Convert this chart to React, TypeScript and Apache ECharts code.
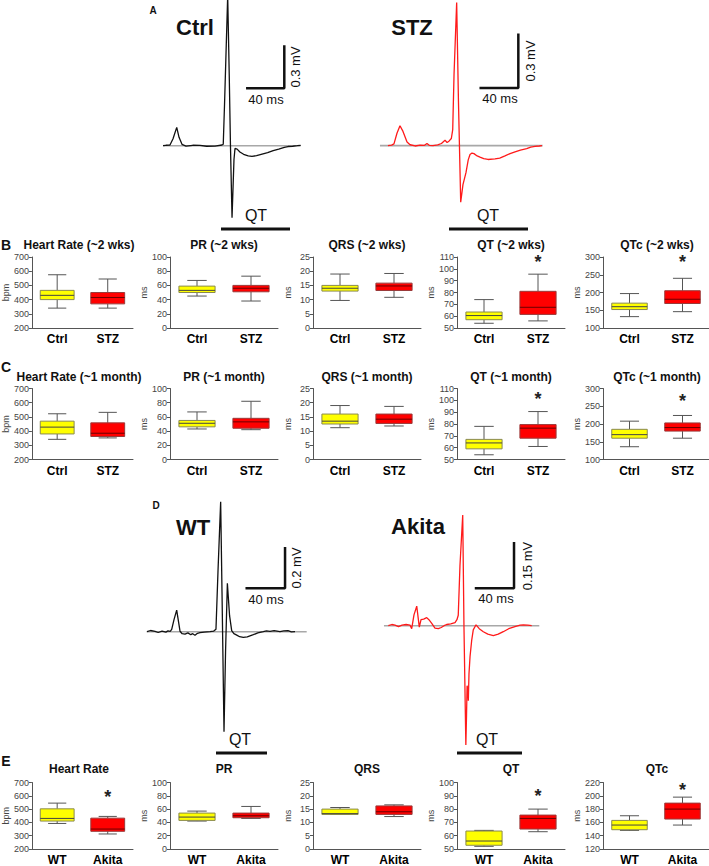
import React, { useEffect, useRef } from 'react';
import * as echarts from 'echarts';

// ---------------- DATA ----------------
const groupsSTZ = ['Ctrl', 'STZ'];
const groupsAkita = ['WT', 'Akita'];

const titles2wk = ['Heart Rate (~2 wks)', 'PR (~2 wks)', 'QRS (~2 wks)', 'QT (~2 wks)', 'QTc (~2 wks)'];
const titles1mo = ['Heart Rate (~1 month)', 'PR (~1 month)', 'QRS (~1 month)', 'QT (~1 month)', 'QTc (~1 month)'];
const titlesAkita = ['Heart Rate', 'PR', 'QRS', 'QT', 'QTc'];
const unitNames = ['bpm', 'ms', 'ms', 'ms', 'ms'];

const axisMinSTZ = [200, 0, 0, 50, 100];
const axisMaxSTZ = [700, 100, 25, 110, 300];
const axisStepSTZ = [100, 20, 5, 10, 50];
const axisMinAkita = [200, 0, 0, 50, 120];
const axisMaxAkita = [700, 100, 25, 100, 220];
const axisStepAkita = [100, 20, 5, 10, 20];

// box values: [min, Q1, median, Q3, max]
const ctrl2wk = [[340, 400, 430, 465, 575], [45, 50, 53, 59, 67], [9.7, 13, 14, 15, 19], [54, 57, 60.5, 63.5, 74], [132, 152, 160, 170, 197]];
const stz2wk = [[340, 370, 415, 450, 545], [38, 51, 56, 60, 73], [10.8, 13.2, 14.8, 15.8, 19.2], [56, 61.5, 67.5, 81, 95.5], [146, 169, 181, 205, 240]];
const ctrl1mo = [[342, 380, 428, 470, 522], [43, 46, 51, 55, 67], [11.2, 12.5, 13.5, 16, 19], [54, 59, 64, 67, 78], [136, 160, 170, 185, 208]];
const stz1mo = [[352, 362, 385, 458, 532], [42, 44, 53, 58, 82], [11.8, 12.7, 14.2, 16, 18.7], [61, 68, 76.5, 79.5, 90.5], [160, 180, 190, 203, 224]];
const wtBox = [[392, 410, 430, 502, 545], [42, 43, 48, 54, 57], [13, 13, 13.3, 15, 15.6], [52, 52.8, 56, 63.5, 64], [148, 149, 156, 163, 170]];
const akitaBox = [[313, 333, 350, 432, 445], [46, 47, 50, 54, 64], [12.2, 13, 14, 16.2, 16.6], [63, 65, 73, 75.5, 80], [156, 165, 180, 189, 198]];

// significance marker levels (null = none)
const star2wk = [null, null, null, 109, 297];
const star1mo = [null, null, null, 104.5, 277];
const starAkita = [619, null, null, 92.8, 215];

// ECG traces: [time ms, amplitude mV]
const ctrlTrace = [[24.9, 0], [28, 0.003], [32.4, 0.005], [35.7, 0.05], [39.7, 0.132], [42.2, 0.06], [45.4, 0.01], [49.7, -0.003], [57, 0.003], [64.9, 0.002], [72, -0.004], [81.1, -0.003], [88.6, 0.005], [90, 0.01], [91.4, 0.3], [94.8, 1.08], [96.5, 0.5], [97.8, 0], [99.5, -0.52], [101.6, -0.1], [102.7, -0.02], [105, -0.025], [108, -0.045], [112, -0.062], [117, -0.073], [121, -0.077], [126, -0.072], [132, -0.06], [138, -0.05], [144, -0.035], [150, -0.025], [156, -0.012], [160, -0.006], [165, -0.004], [170, 0], [173.7, 0.003]];
const stzTrace = [[19.1, 0], [23, 0.003], [25.5, 0.01], [28.7, 0.07], [31.9, 0.112], [35.1, 0.08], [39.4, 0.02], [42.6, 0.005], [48, -0.002], [53.2, 0.003], [58, 0.002], [60.6, 0.012], [63, 0.002], [67, 0], [72, 0.004], [76, 0.012], [79.8, 0.03], [82, 0.018], [84, 0.025], [86.5, 0.04], [88, 0.09], [89.4, 0.4], [92.2, 0.806], [94.1, 0.25], [96.5, -0.319], [98.9, -0.22], [102.1, -0.152], [104.5, -0.08], [106.4, -0.05], [108.5, -0.042], [110.6, -0.045], [114, -0.058], [117, -0.065], [121, -0.073], [125.5, -0.078], [133, -0.075], [138, -0.07], [143.6, -0.058], [149, -0.045], [154.3, -0.035], [160, -0.025], [166.7, -0.017], [171, -0.008], [175.5, -0.004], [180, -0.002], [183, 0]];
const wtTrace = [[7.3, 0], [11, 0.006], [15.7, 0.002], [19, -0.004], [23, 0.003], [27, -0.002], [29.2, 0.004], [31.5, 0.002], [33.1, 0.012], [35.5, 0.06], [38.3, 0.108], [40.2, 0.05], [41.8, 0.002], [44, -0.01], [47, -0.012], [50, -0.006], [53, -0.015], [55, -0.01], [57.4, -0.018], [60, -0.008], [62.6, -0.005], [67, -0.002], [73.1, 0], [77, 0.003], [79.3, 0.012], [81.4, 0.3], [84.2, 0.65], [85.6, 0.2], [87.7, -0.5], [89.3, -0.1], [91.2, 0.242], [93.5, 0.08], [95.7, 0.005], [98, -0.01], [101, -0.017], [104, -0.025], [107.8, -0.028], [112, -0.026], [118.3, -0.015], [123, -0.006], [128.7, 0], [132, 0.004], [135.7, 0.002], [140, 0.005], [146.1, 0], [150, 0.004], [154.5, 0.005], [158, -0.001], [161.8, 0]];
const akitaTrace = [[19.3, 0], [23, 0.004], [26.3, 0.002], [30, -0.003], [33.7, 0.002], [38, 0.004], [42.1, 0.002], [43.9, -0.01], [46.3, 0.036], [49.2, 0.065], [51.9, -0.005], [53.7, 0.02], [56.5, 0.022], [59.7, 0.027], [62, 0.02], [65, 0.008], [68.4, -0.008], [71.9, -0.01], [75, -0.006], [78, 0], [80.7, 0.004], [85, 0.006], [89.5, 0.01], [91.5, 0.02], [92.9, 0.035], [94.7, 0.2], [97.6, 0.369], [98.9, 0], [100.9, -0.398], [101.6, -0.3], [102.2, -0.2], [102.9, -0.21], [103.5, -0.25], [104.2, -0.16], [105.3, -0.103], [107, -0.05], [108.7, -0.014], [111.6, 0.003], [115, -0.01], [119.3, -0.02], [124, -0.028], [129.8, -0.033], [135, -0.028], [140.3, -0.02], [146, -0.01], [152.6, -0.003], [158, 0.002], [161.4, 0.003], [166, 0.002], [170.2, 0]];

// isoelectric baseline extents [start ms, end ms]
const ctrlBaseline = [24.9, 173.7];
const stzBaseline = [10.6, 183.7];
const wtBaseline = [7, 174];
const akitaBaseline = [14.7, 178.2];

// calibration bars: [ms, mV]
const ctrlCal = [40, 0.3];
const stzCal = [40, 0.3];
const wtCal = [40, 0.2];
const akitaCal = [40, 0.15];
const calLabels = [['40 ms', '0.3 mV'], ['40 ms', '0.3 mV'], ['40 ms', '0.2 mV'], ['40 ms', '0.15 mV']];
const traceNames = ['Ctrl', 'STZ', 'WT', 'Akita'];

// ---------------- LAYOUT / STYLE ----------------
const FONT = 'Liberation Sans, Arial, Helvetica, sans-serif';
const YELLOW = '#ffff00';
const RED = '#ff0000';

function renderBox(params: any, api: any) {
  const cat = api.value(0);
  const vals = [api.value(1), api.value(2), api.value(3), api.value(4), api.value(5)];
  const p = vals.map((v: number) => api.coord([cat, v]));
  const band = api.size([1, 0])[0];
  const bw = band * 0.67;
  const cw = band * 0.36;
  const x = p[0][0];
  const isRed = params.dataIndex === 1;
  const fill = isRed ? RED : YELLOW;
  const stroke = isRed ? '#9a3a3a' : '#8a8a50';
  const medC = isRed ? '#6a0000' : '#444';
  const wc = '#555';
  return {
    type: 'group',
    children: [
      { type: 'line', shape: { x1: x, y1: p[4][1], x2: x, y2: p[3][1] }, style: { stroke: wc, lineWidth: 1 } },
      { type: 'line', shape: { x1: x, y1: p[1][1], x2: x, y2: p[0][1] }, style: { stroke: wc, lineWidth: 1 } },
      { type: 'line', shape: { x1: x - cw / 2, y1: p[4][1], x2: x + cw / 2, y2: p[4][1] }, style: { stroke: wc, lineWidth: 1 } },
      { type: 'line', shape: { x1: x - cw / 2, y1: p[0][1], x2: x + cw / 2, y2: p[0][1] }, style: { stroke: wc, lineWidth: 1 } },
      { type: 'rect', shape: { x: x - bw / 2, y: p[3][1], width: bw, height: p[1][1] - p[3][1] }, style: { fill, stroke, lineWidth: 1 } },
      { type: 'line', shape: { x1: x - bw / 2, y1: p[2][1], x2: x + bw / 2, y2: p[2][1] }, style: { stroke: medC, lineWidth: 1 } },
    ],
  };
}

function renderStar(params: any, api: any) {
  const pt = api.coord([api.value(0), api.value(1)]);
  return {
    type: 'text',
    x: pt[0],
    y: pt[1] + 4,
    style: { text: '*', fontSize: 18, fontWeight: 'bold', fill: '#222', align: 'center', verticalAlign: 'middle', fontFamily: FONT },
  };
}

function buildOption() {
  const grid: any[] = [];
  const xAxis: any[] = [];
  const yAxis: any[] = [];
  const series: any[] = [];
  const graphic: any[] = [];

  const txt = (x: number, y: number, text: string, size: number, bold = false, rot = 0) => {
    graphic.push({
      type: 'text', x, y, rotation: rot, silent: true,
      style: { text, fontSize: size, fontWeight: bold ? 'bold' : 'normal', fill: '#111', align: 'center', verticalAlign: 'middle', fontFamily: FONT },
    });
  };
  const bar = (x1: number, x2: number, y: number) => {
    graphic.push({ type: 'line', silent: true, shape: { x1, y1: y, x2, y2: y }, style: { stroke: '#111', lineWidth: 3 } });
  };

  // ECG panels
  const ecg = [
    { trace: ctrlTrace, base: ctrlBaseline, cal: ctrlCal, calAt: [116, 0.414], color: '#111', g: { left: 140, top: 0, width: 185, height: 222 }, y: [-0.55, 1.05] },
    { trace: stzTrace, base: stzBaseline, cal: stzCal, calAt: [117.8, 0.3245], color: '#ff1a1a', g: { left: 370, top: 0, width: 188, height: 222 }, y: [-0.43, 0.82] },
    { trace: wtTrace, base: wtBaseline, cal: wtCal, calAt: [111.4, 0.217], color: '#111', g: { left: 140, top: 491.7, width: 191.6, height: 250 }, y: [-0.55, 0.7] },
    { trace: akitaTrace, base: akitaBaseline, cal: akitaCal, calAt: [111.6, 0.1247], color: '#ff1a1a', g: { left: 370, top: 490.7, width: 190, height: 261 }, y: [-0.42, 0.45] },
  ];
  ecg.forEach((e, i) => {
    const gi = grid.length;
    grid.push(e.g);
    xAxis.push({ gridIndex: gi, type: 'value', min: 0, max: 200, show: false });
    yAxis.push({ gridIndex: gi, type: 'value', min: e.y[0], max: e.y[1], show: false, splitLine: { show: false } });
    const common = { type: 'line', xAxisIndex: gi, yAxisIndex: gi, showSymbol: false, symbol: 'none', silent: true, clip: true };
    series.push({ ...common, data: [[e.base[0], 0], [e.base[1], 0]], lineStyle: { color: '#a8a8a8', width: 1.6 }, z: 1 });
    series.push({ ...common, data: e.trace, lineStyle: { color: e.color, width: 1.3 }, z: 2 });
    const [t0, v0] = e.calAt;
    series.push({ ...common, data: [[t0, v0], [t0 + e.cal[0], v0], [t0 + e.cal[0], v0 + e.cal[1]]], lineStyle: { color: '#111', width: 2.5, cap: 'square' }, z: 3, clip: false });
  });

  // ECG annotations
  txt(153, 10, 'A', 10, true);
  txt(195, 27, traceNames[0], 22, true);
  txt(266, 99, calLabels[0][0], 13);
  txt(295, 67, calLabels[0][1], 13, false, Math.PI / 2);
  txt(256, 215, 'QT', 16);
  bar(221, 290, 229);

  txt(412, 27, traceNames[1], 22, true);
  txt(500, 98, calLabels[1][0], 13);
  txt(530, 61, calLabels[1][1], 13, false, Math.PI / 2);
  txt(488, 215, 'QT', 16);
  bar(449, 528, 229);

  txt(156, 505, 'D', 10, true);
  txt(193, 527, traceNames[2], 22, true);
  txt(266, 599, calLabels[2][0], 13);
  txt(296, 568, calLabels[2][1], 13, false, Math.PI / 2);
  txt(240, 739, 'QT', 16);
  bar(216, 267, 753);

  txt(418, 526, traceNames[3], 22, true);
  txt(496, 598, calLabels[3][0], 13);
  txt(527, 566, calLabels[3][1], 13, false, Math.PI / 2);
  txt(487, 739, 'QT', 16);
  bar(457, 522, 753);

  // Box plot rows
  const lefts = [25, 170, 313, 457, 603];
  const W = 108;
  const rows = [
    { letter: 'B', letterY: 245, titleY: 245, top: 257, titles: titles2wk, groups: groupsSTZ, a: ctrl2wk, b: stz2wk, star: star2wk, mn: axisMinSTZ, mx: axisMaxSTZ, st: axisStepSTZ },
    { letter: 'C', letterY: 367, titleY: 377, top: 388.5, titles: titles1mo, groups: groupsSTZ, a: ctrl1mo, b: stz1mo, star: star1mo, mn: axisMinSTZ, mx: axisMaxSTZ, st: axisStepSTZ },
    { letter: 'E', letterY: 761, titleY: 769, top: 782.5, titles: titlesAkita, groups: groupsAkita, a: wtBox, b: akitaBox, star: starAkita, mn: axisMinAkita, mx: axisMaxAkita, st: axisStepAkita },
  ];
  rows.forEach((r) => {
    txt(6, r.letterY, r.letter, 14, true);
    for (let c = 0; c < 5; c++) {
      const gi = grid.length;
      grid.push({ left: lefts[c], top: r.top, width: W, height: 71 });
      txt(lefts[c] + W / 2, r.titleY, r.titles[c], 12, true);
      xAxis.push({
        gridIndex: gi, type: 'category', data: r.groups,
        axisLine: { lineStyle: { color: '#555', width: 1 } }, axisTick: { show: false },
        axisLabel: { fontSize: 12, fontWeight: 'bold', color: '#000', margin: 5, fontFamily: FONT },
      });
      yAxis.push({
        gridIndex: gi, type: 'value', min: r.mn[c], max: r.mx[c], interval: r.st[c],
        axisLine: { show: true, lineStyle: { color: '#555', width: 1 } },
        axisTick: { show: true, length: 3, lineStyle: { color: '#555' } },
        axisLabel: { fontSize: 9, color: '#444', margin: 3, fontFamily: FONT },
        splitLine: { show: false },
        name: unitNames[c], nameLocation: 'middle', nameRotate: 90, nameGap: 21,
        nameTextStyle: { fontSize: 9, color: '#444', fontFamily: FONT },
      });
      series.push({
        type: 'custom', xAxisIndex: gi, yAxisIndex: gi, renderItem: renderBox, silent: true,
        data: [[0, ...r.a[c]], [1, ...r.b[c]]],
        encode: { x: 0, y: [1, 2, 3, 4, 5] },
      });
      if (r.star[c] != null) {
        series.push({
          type: 'custom', xAxisIndex: gi, yAxisIndex: gi, renderItem: renderStar, silent: true,
          data: [[1, r.star[c]]], encode: { x: 0, y: 1 }, clip: false,
        });
      }
    }
  });

  return {
    animation: false,
    backgroundColor: '#ffffff',
    textStyle: { fontFamily: FONT },
    grid, xAxis, yAxis, series, graphic,
  };
}

export default function App() {
  const ref = useRef<HTMLDivElement>(null);
  useEffect(() => {
    if (!ref.current) return;
    const chart = echarts.init(ref.current, undefined, { renderer: 'svg' });
    chart.setOption(buildOption() as any);
    return () => chart.dispose();
  }, []);
  return <div ref={ref} style={{ position: 'absolute', left: 0, top: 0, width: 709, height: 866, background: '#fff' }} />;
}
